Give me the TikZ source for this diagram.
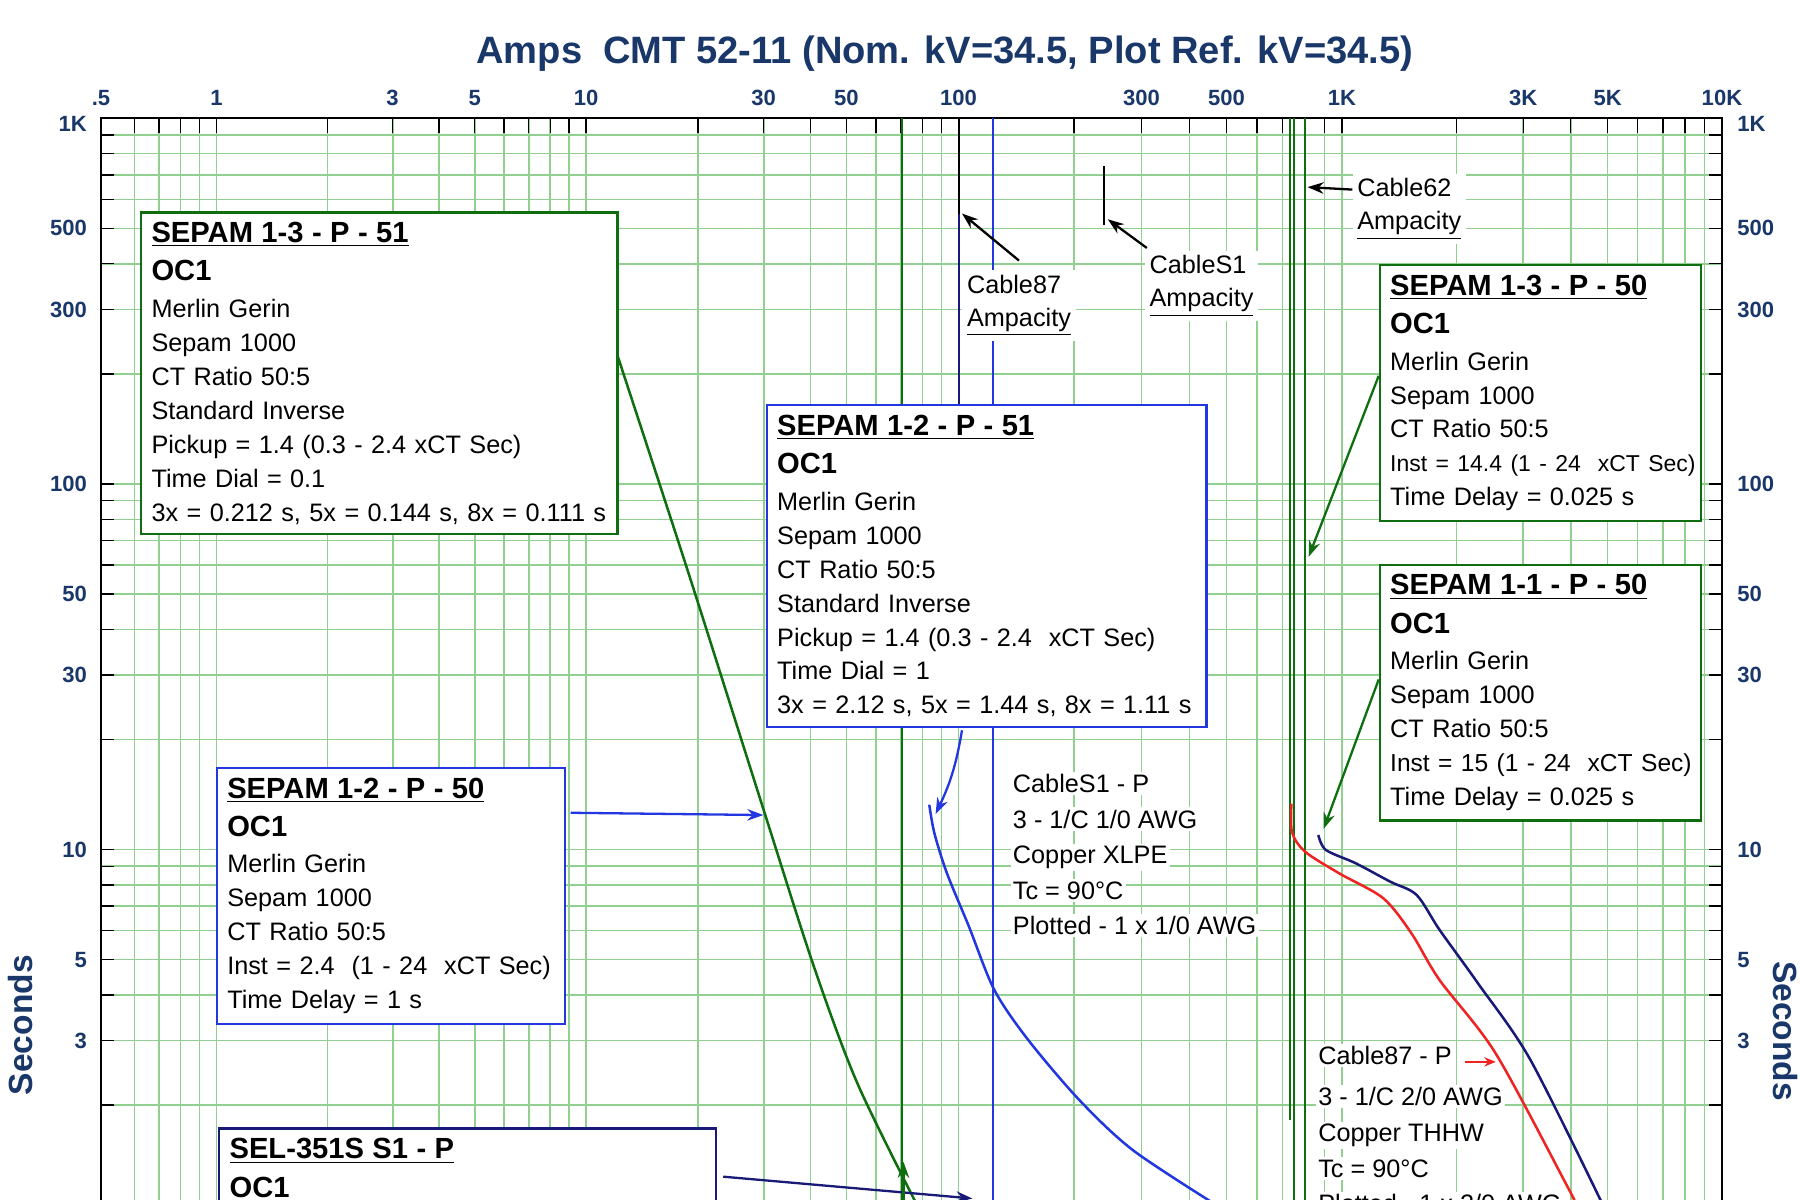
\documentclass[tikz,border=0pt]{standalone}
\usepackage{fontspec}
\setmainfont{Liberation Sans}
\usetikzlibrary{arrows.meta}
\definecolor{gridgreen}{RGB}{145,208,145}
\definecolor{plotgreen}{RGB}{15,110,15}
\definecolor{plotblue}{RGB}{35,55,225}
\definecolor{plotnavy}{RGB}{25,25,120}
\definecolor{plotred}{RGB}{240,35,35}
\definecolor{axisnavy}{RGB}{25,55,105}
\setlength\fboxsep{1pt}
\newcommand\secy[1]{1058.5-318.5*log10(#1)}
\newcommand\boxhead[1]{{\fontsize{12.7}{15}\selectfont\bfseries #1}}
\newcommand\wbg[1]{\colorbox{white}{#1}}
\tikzset{
  gridline/.style={draw=gridgreen, line width=0.7pt},
  axislabel/.style={text=axisnavy, font=\fontsize{9.6}{11}\selectfont\bfseries, inner sep=0pt},
  relay box/.style={draw=#1, line width=1pt, fill=white, anchor=north west, align=left,
    inner xsep=4.5pt, inner ysep=4.2pt, font=\fontsize{11}{14.8}\selectfont},
  cable tag/.style={fill=white, inner sep=2pt, anchor=north west, align=left,
    font=\fontsize{11}{14.5}\selectfont},
  cable text/.style={inner sep=0pt, anchor=north west, align=left, font=\fontsize{11}{15.5}\selectfont},
  pointer/.style={-{Stealth[length=7pt,width=5pt]}, line width=1pt},
  tcc/.style={line width=1.1pt},
}
\begin{document}
\begin{tikzpicture}[x=0.5pt, y=-0.5pt]
  \useasboundingbox (0,0) rectangle (1568,1045);
  \clip (0,0) rectangle (1568,1045);
  \foreach \a/\d in {-133.5/322, 188.5/322, 510.5/324.5, 835/334, 1169/331}
    \foreach \m in {1,...,9} {
      \pgfmathsetmacro\gx{\a+\d*log10(\m)}
      \ifdim\gx pt>92pt
        \draw[gridline] (\gx,103) -- (\gx,1045);
        \draw[line width=0.6pt] (\gx,103) -- (\gx,116);
      \fi
    }
  \foreach \e in {0,1,2}
    \foreach \m in {1,...,9} {
      \pgfmathsetmacro\gy{1058.5-318.5*(\e+log10(\m))}
      \ifdim\gy pt>110pt
        \draw[gridline] (88,\gy) -- (1500,\gy);
        \draw[line width=0.6pt] (88,\gy) -- (99,\gy) (1500,\gy) -- (1489,\gy);
      \fi
    }
  \draw[line width=0.9pt] (88,1045) -- (88,103) -- (1500,103) -- (1500,1045);

  \node[text=axisnavy, font=\fontsize{16.6}{20}\selectfont\bfseries] (title) at (823,47)
    {Amps~ CMT 52-11 (Nom. kV=34.5, Plot Ref. kV=34.5)};
  \foreach \x/\t [count=\i] in {88/.5,188.5/1,342/3,413.6/5,510.5/10,665.3/30,737.3/50,835/100,
      994.3/300,1068.4/500,1169/1K,1326.9/3K,1400.4/5K,1500/10K}
    \node[axislabel] (amps\i) at (\x,85) {\t};
  \foreach \v/\t [count=\i] in {1000/1K,500/500,300/300,100/100,50/50,30/30,10/10,5/5,3/3} {
    \node[axislabel, anchor=east] (secl\i) at (76,{max(\secy{\v},108)}) {\t};
    \node[axislabel, anchor=west] (secr\i) at (1513,{max(\secy{\v},108)}) {\t};
  }
  \node[text=axisnavy, font=\fontsize{14.6}{17}\selectfont\bfseries, rotate=90] (secleft) at (18,893) {Seconds};
  \node[text=axisnavy, font=\fontsize{14.6}{17}\selectfont\bfseries, rotate=-90] (secright) at (1555,898) {Seconds};

  \draw[plotgreen, line width=0.9pt] (786,103) -- (786,1045);
  \draw[plotnavy, line width=0.9pt] (835,103) -- (835,352);
  \draw[plotblue, line width=0.6pt] (865,103) -- (865,1045);
  \draw[plotgreen, line width=0.9pt] (1124,103) -- (1124,976) (1127.5,103) -- (1127.5,1045) (1137,103) -- (1137,1045);
  \draw[line width=0.9pt] (835,103) -- (835,186) (962,145) -- (962,196);

  \draw[plotgreen, tcc] plot[smooth] coordinates {(530,287) (538,310) (600,500) (666,708) (709,842) (747,944) (800,1052)};
  \draw[plotblue, tcc] plot[smooth] coordinates {(809.5,701) (814,726) (825,761) (844,807) (866,862) (895,905) (940,958) (987,1002) (1060,1050)};
  \draw[plotred, tcc] plot[smooth] coordinates {(1125,700) (1125.5,725) (1137,742) (1167,761) (1205,782.5) (1229.5,813) (1254,853.7) (1302.8,917.5) (1364,1031) (1372,1047)};
  \draw[plotnavy, tcc] plot[smooth] coordinates {(1148.4,727.4) (1155,740.4) (1181,752) (1211,768) (1234,779.6) (1254,810) (1287.5,856.6) (1333,923) (1395,1047)};

  \coordinate (amp87) at (838,186);
  \coordinate (ampS1) at (965,191);
  \coordinate (amp62) at (1139,163);
  \coordinate (inst13) at (1140,485);
  \coordinate (inst11) at (1153,722);
  \coordinate (inst12) at (665,710);
  \coordinate (toc12) at (815,709);
  \coordinate (selpt) at (847,1044);
  \coordinate (grn0) at (787,1052);
  \coordinate (grn1) at (787,1012);
  \coordinate (red0) at (1276,925);
  \coordinate (red1) at (1303,925);

  \node[cable tag] (lbl87) at (838,235) {Cable87\\\underline{Ampacity}};
  \node[cable tag] (lblS1) at (997,218) {CableS1\\\underline{Ampacity}};
  \node[cable tag] (lbl62) at (1178,151) {Cable62\\\underline{Ampacity}};
  \node[cable text] (cs1p) at (880,672) {\wbg{CableS1 - P}\\ \wbg{3 - 1/C 1/0 AWG}\\ \wbg{Copper XLPE}\\
    \wbg{Tc = 90°C}\\ \wbg{Plotted - 1 x 1/0 AWG}};
  \node[cable text] (c87p) at (1146,909) {\wbg{Cable87 - P}\\[2.5pt] \wbg{3 - 1/C 2/0 AWG}\\ \wbg{Copper THHW}\\
    \wbg{Tc = 90°C}\\ \wbg{Plotted - 1 x 2/0 AWG}};

  \node[relay box=plotgreen, text width=198.5pt] (b13p51) at (122,184) {\boxhead{\underline{SEPAM 1-3 - P - 51}}\\[2pt]
    \boxhead{OC1}\\[1pt] Merlin Gerin\\ Sepam 1000\\ CT Ratio 50:5\\ Standard Inverse\\
    \mbox{Pickup = 1.4 (0.3 - 2.4 xCT Sec)}\\ Time Dial = 0.1\\ \mbox{3x = 0.212 s, 5x = 0.144 s, 8x = 0.111 s}};
  \node[relay box=plotblue, text width=182.5pt] (b12p51) at (667,352) {\boxhead{\underline{SEPAM 1-2 - P - 51}}\\[2pt]
    \boxhead{OC1}\\[1pt] Merlin Gerin\\ Sepam 1000\\ CT Ratio 50:5\\ Standard Inverse\\
    \mbox{Pickup = 1.4 (0.3 - 2.4~ xCT Sec)}\\ Time Dial = 1\\ \mbox{3x = 2.12 s, 5x = 1.44 s, 8x = 1.11 s}};
  \node[relay box=plotblue, text width=142.5pt] (b12p50) at (188,668) {\boxhead{\underline{SEPAM 1-2 - P - 50}}\\[2pt]
    \boxhead{OC1}\\[1pt] Merlin Gerin\\ Sepam 1000\\ CT Ratio 50:5\\
    \mbox{Inst = 2.4~ (1 - 24~ xCT Sec)}\\ Time Delay = 1 s};
  \node[relay box=plotnavy, text width=207.5pt, text depth=80pt] (sel) at (190,982) {\boxhead{\underline{SEL-351S S1 - P}}\\[2pt]
    \boxhead{OC1}};
  \node[relay box=plotgreen, text width=131pt] (b13p50) at (1201,230) {\boxhead{\underline{SEPAM 1-3 - P - 50}}\\[2pt]
    \boxhead{OC1}\\[1pt] Merlin Gerin\\ Sepam 1000\\ CT Ratio 50:5\\
    \mbox{\fontsize{10}{14.8}\selectfont Inst = 14.4 (1 - 24~ xCT Sec)}\\ Time Delay = 0.025 s};
  \node[relay box=plotgreen, text width=131pt] (b11p50) at (1201,491) {\boxhead{\underline{SEPAM 1-1 - P - 50}}\\[2pt]
    \boxhead{OC1}\\[1pt] Merlin Gerin\\ Sepam 1000\\ CT Ratio 50:5\\
    \mbox{\fontsize{10.7}{14.8}\selectfont Inst = 15 (1 - 24~ xCT Sec)}\\ Time Delay = 0.025 s};

  \draw[pointer] ([yshift=4pt]lbl87.north) -- (amp87);
  \draw[pointer] ([shift={(1pt,1pt)}]lblS1.north west) -- (ampS1);
  \draw[pointer] ([yshift=8.5pt]lbl62.west) -- (amp62);
  \draw[pointer, plotgreen] ([yshift=7.5pt]b13p50.west) -- (inst13);
  \draw[pointer, plotgreen] ([yshift=5.75pt]b11p50.west) -- (inst11);
  \draw[pointer, plotblue] ([shift={(2pt,-20pt)}]b12p50.north east) -- (inst12);
  \draw[pointer, plotblue] ([shift={(-10.75pt,-1pt)}]b12p51.south) to[bend left=8] (toc12);
  \draw[pointer, plotnavy] ([shift={(2.5pt,-21.5pt)}]sel.north east) -- (selpt);
  \draw[pointer, plotgreen] (grn0) -- (grn1);
  \draw[-{Stealth[length=5pt,width=4pt]}, plotred, line width=0.8pt] (red0) -- (red1);
\end{tikzpicture}
\end{document}
